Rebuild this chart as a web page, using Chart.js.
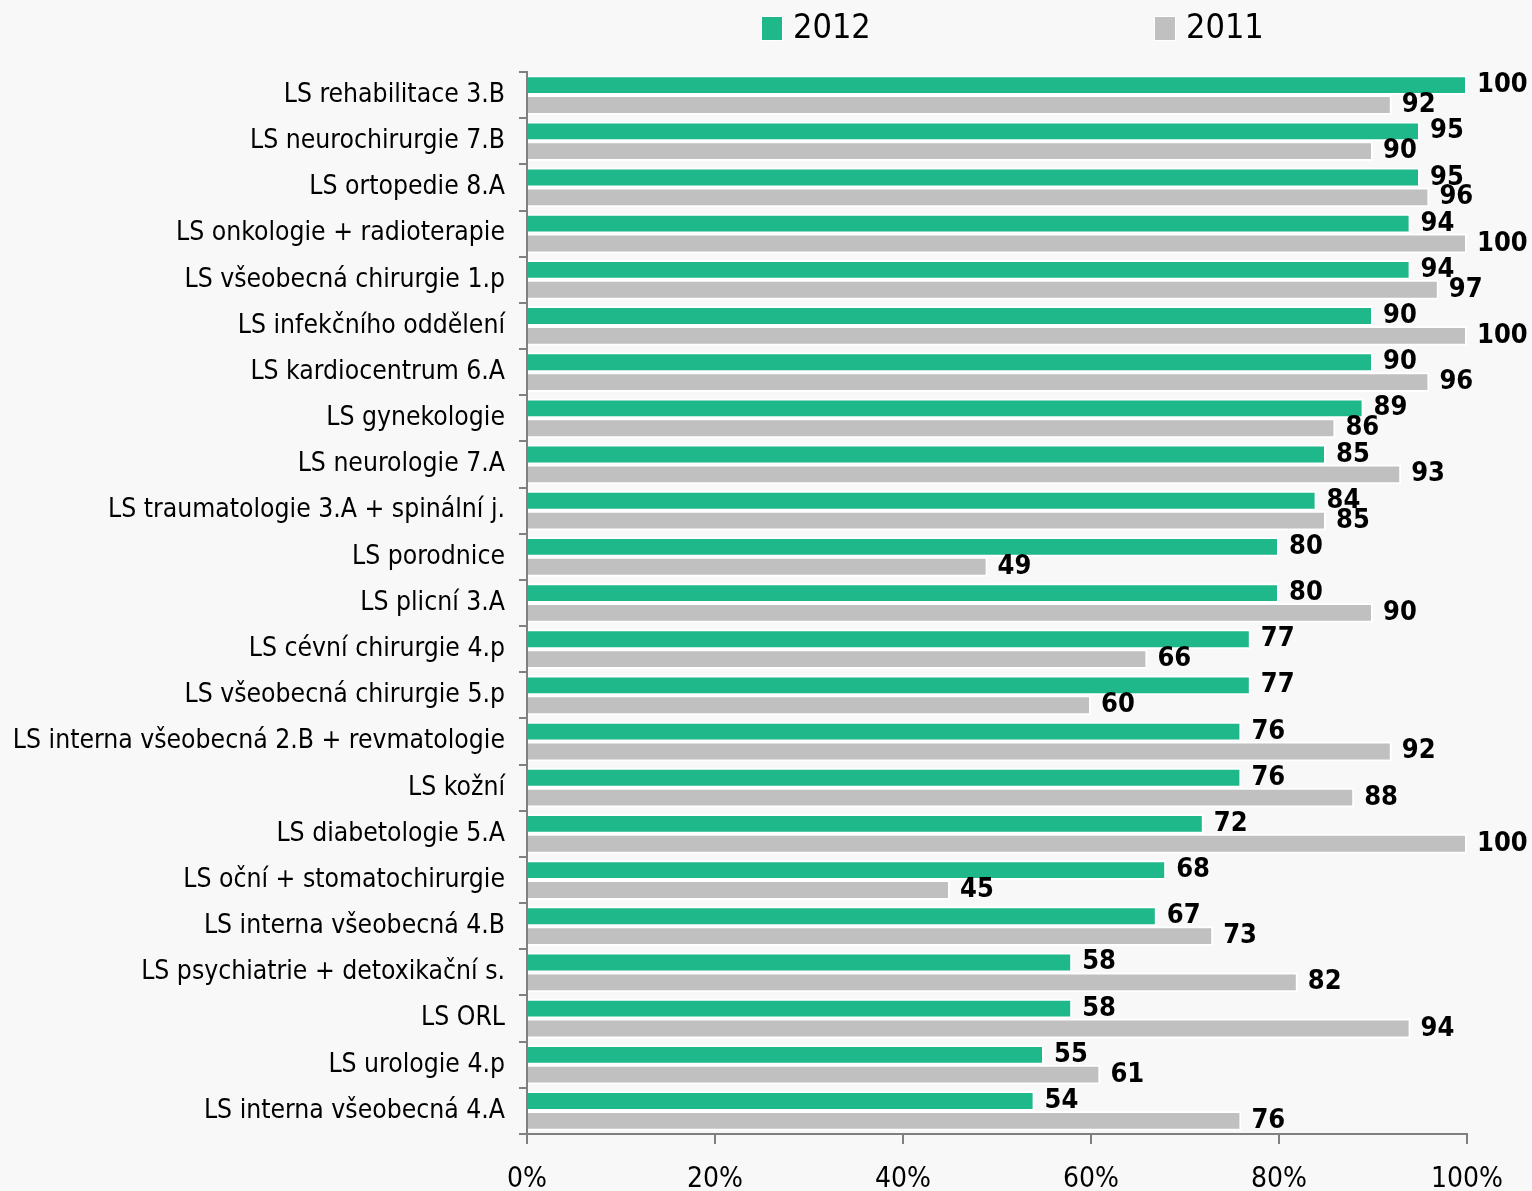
<!DOCTYPE html>
<html>
<head>
<meta charset="utf-8">
<script src="https://cdn.jsdelivr.net/npm/chart.js@4/dist/chart.umd.min.js"></script>
<style>
    html, body { margin: 0; padding: 0; background: #f8f8f8; }
    #wrap { width: 1532px; height: 1191px; position: relative; }
</style>
</head>
<body>
<div id="wrap"><canvas id="satisfactionChart"></canvas></div>
<script>
// Spokojenost pacientů podle lůžkových stanic, 2012 vs 2011
const categories = [
    "LS rehabilitace 3.B",
    "LS neurochirurgie 7.B",
    "LS ortopedie 8.A",
    "LS onkologie + radioterapie",
    "LS všeobecná chirurgie 1.p",
    "LS infekčního oddělení",
    "LS kardiocentrum 6.A",
    "LS gynekologie",
    "LS neurologie 7.A",
    "LS traumatologie 3.A + spinální j.",
    "LS porodnice",
    "LS plicní 3.A",
    "LS cévní chirurgie 4.p",
    "LS všeobecná chirurgie 5.p",
    "LS interna všeobecná 2.B + revmatologie",
    "LS kožní",
    "LS diabetologie 5.A",
    "LS oční + stomatochirurgie",
    "LS interna všeobecná 4.B",
    "LS psychiatrie + detoxikační s.",
    "LS ORL",
    "LS urologie 4.p",
    "LS interna všeobecná 4.A"
];
const values2012 = [100, 95, 95, 94, 94, 90, 90, 89, 85, 84, 80, 80, 77, 77, 76, 76, 72, 68, 67, 58, 58, 55, 54];
const values2011 = [92, 90, 96, 100, 97, 100, 96, 86, 93, 85, 49, 90, 66, 60, 92, 88, 100, 45, 73, 82, 94, 61, 76];
const seriesLabels = ["2012", "2011"];
const axisTicks = [0, 20, 40, 60, 80, 100];

const GREEN = "#1fb88b";
const GRAY = "#c0c0c0";
const AXIS = "#808080";
const LABEL_FONT = "'DejaVu Sans Condensed', 'DejaVu Sans', sans-serif";

// numbers at the end of every bar
const valueLabels = {
    id: "valueLabels",
    afterDatasetsDraw(chart) {
        const ctx = chart.ctx;
        ctx.save();
        ctx.font = "bold 27px " + LABEL_FONT;
        ctx.fillStyle = "#000";
        ctx.textAlign = "left";
        ctx.textBaseline = "middle";
        chart.data.datasets.forEach((ds, i) => {
            chart.getDatasetMeta(i).data.forEach((bar, j) => {
                ctx.fillText(ds.data[j], bar.x + 10, bar.y);
            });
        });
        ctx.restore();
    }
};

// legend drawn by hand so the two entries can sit far apart
const topLegend = {
    id: "topLegend",
    afterDraw(chart) {
        const ctx = chart.ctx;
        const xs = [762, 1155];
        ctx.save();
        ctx.font = "34px " + LABEL_FONT;
        ctx.textBaseline = "middle";
        chart.data.datasets.forEach((ds, i) => {
            ctx.fillStyle = "#fff";
            ctx.fillRect(xs[i] - 1, 16, 22, 25);
            ctx.fillStyle = ds.backgroundColor;
            ctx.fillRect(xs[i], 17, 20, 23);
            ctx.fillStyle = "#000";
            ctx.fillText(ds.label, xs[i] + 31, 29);
        });
        ctx.restore();
    }
};

new Chart(document.getElementById("satisfactionChart"), {
    type: "bar",
    data: {
        labels: categories,
        datasets: [
            {
                label: seriesLabels[0],
                data: values2012,
                backgroundColor: GREEN,
                borderColor: "#fff",
                borderWidth: 2,
                borderSkipped: "left"
            },
            {
                label: seriesLabels[1],
                data: values2011,
                backgroundColor: GRAY,
                borderColor: "#fff",
                borderWidth: 2,
                borderSkipped: "left"
            }
        ]
    },
    options: {
        indexAxis: "y",
        responsive: true,
        maintainAspectRatio: false,
        animation: false,
        datasets: {
            bar: { categoryPercentage: 0.86, barPercentage: 1.0 }
        },
        layout: { padding: { top: 72, right: 65, left: 0, bottom: 0 } },
        plugins: {
            legend: { display: false },
            tooltip: { enabled: false }
        },
        scales: {
            x: {
                type: "linear",
                min: 0,
                max: 100,
                afterBuildTicks: scale => { scale.ticks = axisTicks.map(v => ({ value: v })); },
                afterFit: scale => { scale.height = 57; },
                border: { color: AXIS, width: 2 },
                grid: { drawOnChartArea: false, color: AXIS, lineWidth: 2, tickLength: 10 },
                ticks: {
                    color: "#000",
                    padding: 19,
                    font: { family: LABEL_FONT, size: 28 },
                    callback: v => v + "%"
                }
            },
            y: {
                afterFit: scale => { scale.width = 527; },
                border: { color: AXIS, width: 2 },
                grid: { drawOnChartArea: false, offset: true, color: AXIS, lineWidth: 2, tickLength: 8 },
                ticks: {
                    color: "#000",
                    padding: 14,
                    autoSkip: false,
                    font: { family: LABEL_FONT, size: 26.3 }
                }
            }
        }
    },
    plugins: [valueLabels, topLegend]
});
</script>
</body>
</html>
